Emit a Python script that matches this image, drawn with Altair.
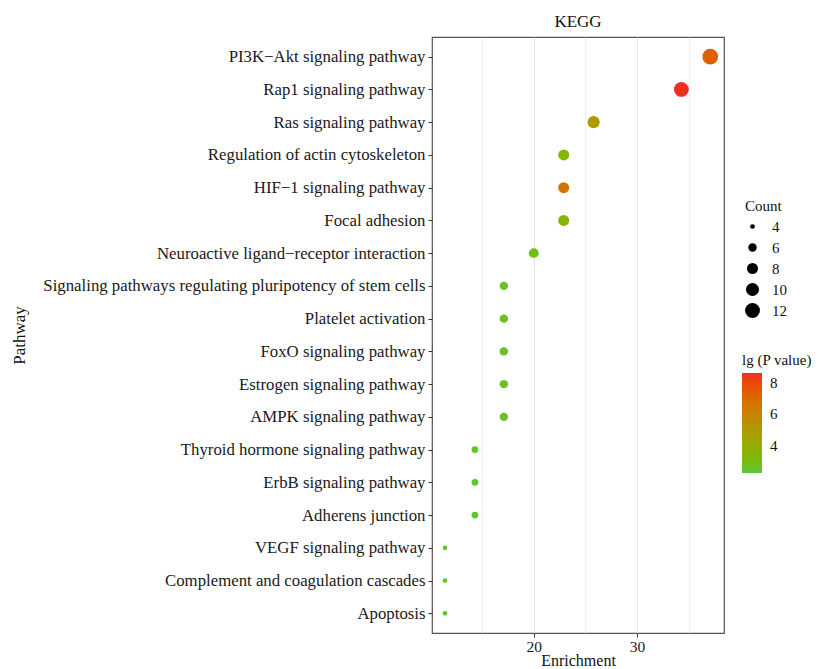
import altair as alt
import pandas as pd

pathways = [
    "PI3K\u2212Akt signaling pathway",
    "Rap1 signaling pathway",
    "Ras signaling pathway",
    "Regulation of actin cytoskeleton",
    "HIF\u22121 signaling pathway",
    "Focal adhesion",
    "Neuroactive ligand\u2212receptor interaction",
    "Signaling pathways regulating pluripotency of stem cells",
    "Platelet activation",
    "FoxO signaling pathway",
    "Estrogen signaling pathway",
    "AMPK signaling pathway",
    "Thyroid hormone signaling pathway",
    "ErbB signaling pathway",
    "Adherens junction",
    "VEGF signaling pathway",
    "Complement and coagulation cascades",
    "Apoptosis",
]
counts = [13, 12, 9, 8, 8, 8, 7, 6, 6, 6, 6, 6, 5, 5, 5, 4, 4, 4]
enrichment = [37.1, 34.3, 25.8, 22.9, 22.9, 22.9, 20.0, 17.1, 17.1, 17.1, 17.1, 17.1,
              14.3, 14.3, 14.3, 11.4, 11.4, 11.4]
lgp = [7.3, 8.6, 5.0, 3.4, 6.6, 3.4, 2.9, 2.7, 2.7, 2.7, 2.7, 2.7,
       2.5, 2.5, 2.5, 2.35, 2.35, 2.35]

df = pd.DataFrame({"Pathway": pathways, "Count": counts,
                   "Enrichment": enrichment, "lgP": lgp})

FONT = "Liberation Serif"

chart = alt.Chart(df).mark_circle(opacity=1).encode(
    x=alt.X("Enrichment:Q",
            scale=alt.Scale(domain=[10.14, 38.43], nice=False, zero=False),
            axis=alt.Axis(values=[15, 20, 25, 30, 35],
                          labelExpr="datum.value % 10 === 0 ? datum.label : ''",
                          tickColor={"condition": {"test": "datum.value % 10 === 0", "value": "#333333"},
                                     "value": "transparent"},
                          gridWidth={"condition": {"test": "datum.value % 10 === 0", "value": 1},
                                     "value": 0.6},
                          labelPadding=2, labelFontSize=15.5,
                          title="Enrichment", titlePadding=-2, titleFontSize=16)),
    y=alt.Y("Pathway:N", sort=pathways, scale=alt.Scale(padding=0.6),
            axis=alt.Axis(title="Pathway", labelLimit=600)),
    size=alt.Size("Count:Q",
                  scale=alt.Scale(domain=[4, 13], range=[22, 245], zero=False),
                  legend=alt.Legend(values=[4, 6, 8, 10, 12], title="Count",
                                    orient="none", legendX=313, legendY=162,
                                    symbolFillColor="black", symbolStrokeWidth=0,
                                    rowPadding=5, labelOffset=12)),
    color=alt.Color("lgP:Q",
                    scale=alt.Scale(domain=[2.29, 8.63], range=["#5BC63A", "#EE2C24"],
                                    interpolate="hcl", nice=False, zero=False),
                    legend=alt.Legend(title="lg (P value)", values=[4, 6, 8],
                                      orient="none", legendX=310, legendY=316,
                                      gradientLength=100, gradientThickness=20,
                                      labelOffset=8)),
).properties(
    width=292, height=596,
    title=alt.TitleParams("KEGG", anchor="middle", font=FONT, fontSize=17,
                          fontWeight="normal", color="#111111", offset=6),
    autosize=alt.AutoSizeParams(type="none"),
    padding={"left": 424, "top": 29, "right": 92, "bottom": 36},
).configure_view(
    stroke="#5a5252", strokeWidth=1.2
).configure_axis(
    labelFont=FONT, titleFont=FONT, labelFontSize=16.8, titleFontSize=17,
    labelColor="#1a1a1a", titleColor="#111111", titleFontWeight="normal",
    gridColor="#e6e2e2", domain=False, tickColor="#333333", tickSize=4,
    labelPadding=3,
).configure_axisY(
    titleX=-404, titleY=298, titleAlign="center"
).configure_legend(
    labelFont=FONT, titleFont=FONT, labelFontSize=15, titleFontSize=15,
    titleFontWeight="normal", titleColor="#111111", labelColor="#111111",
)

chart.save("out.html", embed_options={"renderer": "svg", "actions": False})
